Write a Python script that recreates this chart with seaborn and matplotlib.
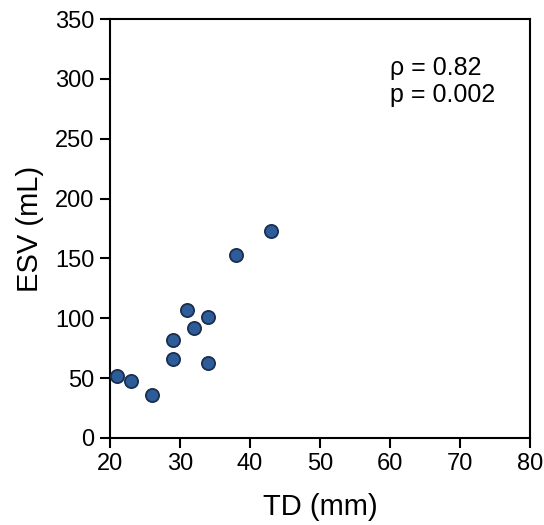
import matplotlib
matplotlib.use("Agg")
import matplotlib.pyplot as plt
import pandas as pd
import seaborn as sns

# values
td_mm = [21, 23, 26, 29, 29, 31, 32, 34, 34, 38, 43]
esv_ml = [52, 48, 36, 82, 66, 107, 92, 101, 63, 153, 173]
x_ticks = [20, 30, 40, 50, 60, 70, 80]
y_ticks = [0, 50, 100, 150, 200, 250, 300, 350]
rho_text = "\u03c1 = 0.82"
p_text = "p = 0.002"

sns.set_style("ticks")
plt.rcParams["font.family"] = ["Liberation Sans", "DejaVu Sans"]
plt.rcParams["text.color"] = "black"
plt.rcParams["axes.labelcolor"] = "black"
plt.rcParams["xtick.color"] = "black"
plt.rcParams["ytick.color"] = "black"

df = pd.DataFrame({"TD": td_mm, "ESV": esv_ml})

fig = plt.figure(figsize=(5.44, 5.25), dpi=100)
ax = fig.add_axes([110 / 544, 87 / 525, 420 / 544, 419 / 525])

sns.scatterplot(
    data=df, x="TD", y="ESV", ax=ax,
    s=90, color="#2c5d99", edgecolor="#1b2e4f", linewidth=1.3, zorder=3,
)

ax.set_xlim(20, 80)
ax.set_ylim(0, 350)
ax.set_xticks(x_ticks)
ax.set_yticks(y_ticks)
ax.tick_params(axis="both", direction="out", length=7, width=1.5,
               labelsize=17, pad=4)
for side in ["left", "right", "top", "bottom"]:
    ax.spines[side].set_visible(True)
    ax.spines[side].set_linewidth(1.5)
    ax.spines[side].set_color("black")

ax.set_xlabel("TD (mm)", fontsize=21, labelpad=13)
ax.set_ylabel("ESV (mL)", fontsize=21, labelpad=8)

ax.text(0.667, 0.912, rho_text + "\n" + p_text, transform=ax.transAxes,
        fontsize=18, va="top", ha="left", linespacing=1.15)

fig.savefig("out.png", dpi=100)
